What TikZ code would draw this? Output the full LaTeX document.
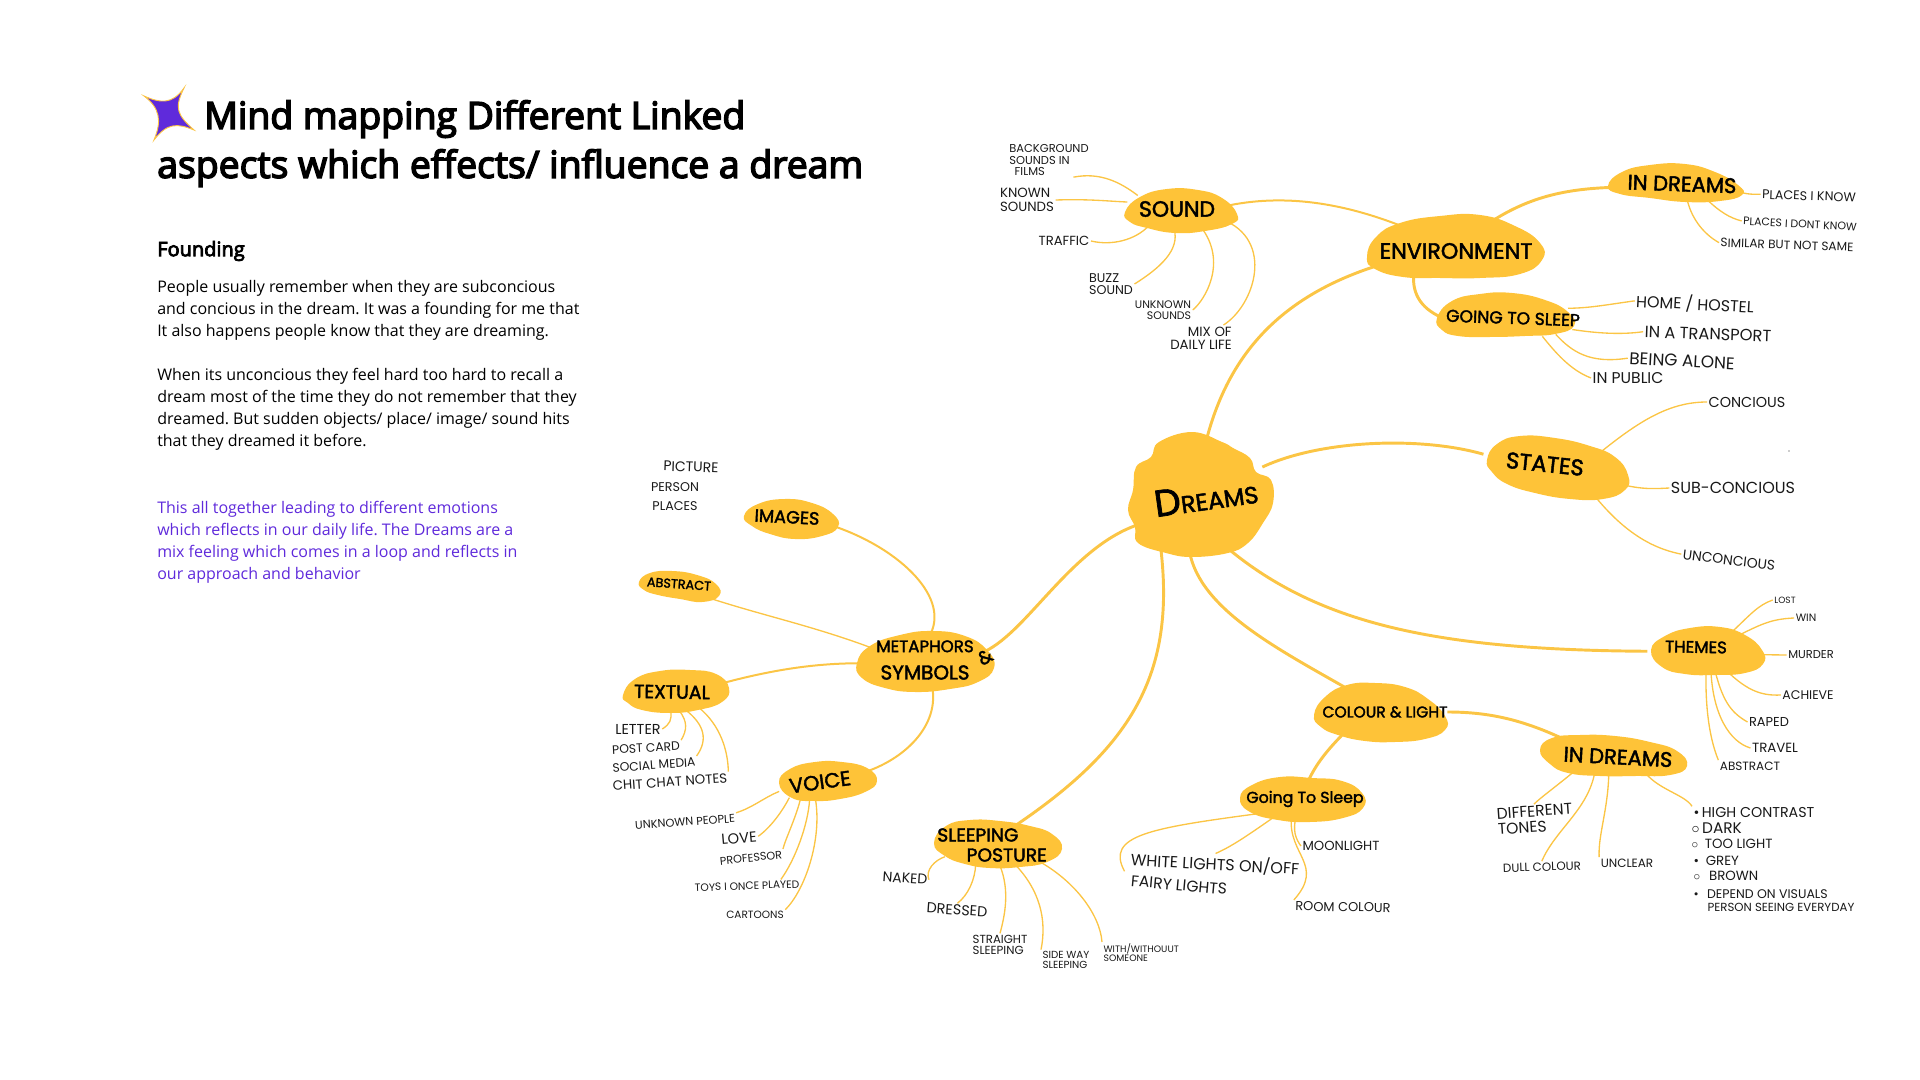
\documentclass[tikz,border=0pt]{standalone}
\usepackage{fontspec}
\setmainfont{Open Sans}
\newfontfamily\titlefont{Open Sans}[FakeBold=4]
\newfontfamily\handfont{Poppins}
\newfontfamily\headfont{Poppins}[FakeBold=2]
\usetikzlibrary{backgrounds,shapes.geometric}
\definecolor{dreamyellow}{HTML}{FEC338}
\definecolor{branchyellow}{HTML}{FBC545}
\definecolor{notepurple}{HTML}{5F2ADB}
\frenchspacing
\tikzset{
  blob fill/.style={fill=dreamyellow},
  blob node/.style 2 args={ellipse,inner xsep=-14pt,inner ysep=-3pt,
    minimum width=#1*.75pt,minimum height=#2*.75pt},
  head label/.style={font=\headfont\fontsize{#1}{#1}\selectfont,text=black},
  leaf label/.style={font=\handfont\fontsize{#1}{#1}\selectfont,text=black!90,
    inner sep=1pt,align=left},
  main branch/.style={draw=branchyellow,line width=2.2pt},
  mid branch/.style={draw=branchyellow,line width=1.5pt},
  leaf branch/.style={draw=branchyellow,line width=1pt},
  body text/.style={font=\fontsize{12}{16.5}\selectfont,align=left,inner sep=0pt},
}

\begin{document}
\begin{tikzpicture}[x=.75pt,y=-.75pt]
  \useasboundingbox (0,0) rectangle (1920,1080);
  \fill[notepurple,draw=branchyellow,line width=.7pt] (184,88)
    .. controls (174,108) and (177,115) .. (194,130)
    .. controls (177,123) and (167,123) .. (154,140)
    .. controls (162,121) and (160,108) .. (144,96)
    .. controls (160,103) and (172,105) .. (184,88) -- cycle;
  \node[font=\titlefont\fontsize{28}{36.75}\selectfont,align=left,anchor=north west,inner sep=0pt] (title)
    at (157,100) {\hspace*{35.25pt}Mind mapping Different Linked\\aspects which effects/ influence a dream};
  \node[font=\titlefont\fontsize{15}{18}\selectfont,anchor=west,inner sep=0pt] (founding) at (157,251) {Founding};
  \node[body text,anchor=north west] (para1) at (157,280) {People usually remember when they are subconcious\\
    and concious in the dream. It was a founding for me that\\It also happens people know that they are dreaming.};
  \node[body text,anchor=north west] (para2) at (157,368) {When its unconcious they feel hard too hard to recall a\\
    dream most of the time they do not remember that they\\dreamed. But sudden objects/ place/ image/ sound hits\\that they dreamed it before.};
  \node[body text,anchor=north west,text=notepurple] (para3) at (157,501) {This all together leading to different emotions\\
    which reflects in our daily life. The Dreams are a\\mix feeling which comes in a loop and reflects in\\our approach and behavior};

  \node[blob node={130}{110},head label=18,rotate=8] (dreams) at (1206,497) {{\fontsize{28}{28}\selectfont D}REAMS};
  \node[blob node={105}{40},head label=16.5] (sound) at (1177,209) {SOUND};
  \node[blob node={165}{54},head label=16.7] (env) at (1456,251) {ENVIRONMENT};
  \node[blob node={125}{32},head label=15.8,rotate=-2] (indreams) at (1682,184) {IN DREAMS};
  \node[blob node={125}{38},head label=12.9,rotate=-2] (gosleep) at (1513,318) {GOING TO SLEEP};
  \node[blob node={125}{50},head label=17,rotate=-6] (states) at (1545,464) {STATES};
  \node[blob node={100}{40},head label=12.5,rotate=-1] (themes) at (1696,647) {THEMES};
  \node[blob node={120}{48},head label=11.7] (colour) at (1385,712) {COLOUR \& LIGHT};
  \node[blob node={130}{34},head label=15.8,rotate=-3] (coldreams) at (1618,757) {IN DREAMS};
  \node[blob node={108}{38},head label=11.8] (colsleep) at (1305,799) {Going To Sleep};
  \node[blob node={125}{52},head label=12.5,align=center] (metaphors) at (925,660) {METAPHORS\\[8pt]{\fontsize{15}{15}\selectfont SYMBOLS}};
  \node[head label=14,rotate=30,inner sep=0pt] (metaand) at (985,657) {\&};
  \node[blob node={85}{34},head label=13.3,rotate=-3] (images) at (787,517) {IMAGES};
  \node[blob node={72}{26},head label=9.6,rotate=-4] (abstract) at (679,584) {ABSTRACT};
  \node[blob node={95}{36},head label=14.2,rotate=-1] (textual) at (672,692) {TEXTUAL};
  \node[blob node={85}{34},head label=15.5,rotate=8] (voice) at (820,782) {VOICE};
  \node[blob node={115}{40},head label=14,align=left] (posture) at (992,845) {SLEEPING\\[1pt]\hspace*{22pt}POSTURE};

  \node[leaf label=8.6] (bgsounds) at (1049,160) {BACKGROUND\\SOUNDS IN\\\hspace*{4pt}FILMS};
  \node[leaf label=10] (known) at (1027,200) {KNOWN\\SOUNDS};
  \node[leaf label=9.9] (traffic) at (1064,241) {TRAFFIC};
  \node[leaf label=9.5] (buzz) at (1111,284) {BUZZ\\SOUND};
  \node[leaf label=8.2,align=right] (unknownsnd) at (1163,310) {UNKNOWN\\SOUNDS};
  \node[leaf label=10,align=right] (mix) at (1201,338) {MIX OF\\DAILY LIFE};
  \node[leaf label=9.5,rotate=-2] (placesknow) at (1809,196) {PLACES I KNOW};
  \node[leaf label=8.2,rotate=-3] (placesdont) at (1800,224) {PLACES I DONT KNOW};
  \node[leaf label=9.1,rotate=-2] (similar) at (1787,245) {SIMILAR BUT NOT SAME};
  \node[leaf label=11.9,rotate=-3] (home) at (1695,304) {HOME / HOSTEL};
  \node[leaf label=12.2,rotate=-2] (transport) at (1708,334) {IN A TRANSPORT};
  \node[leaf label=12.7,rotate=-3] (alone) at (1682,361) {BEING ALONE};
  \node[leaf label=11.7] (public) at (1628,378) {IN PUBLIC};
  \node[leaf label=10.8] (concious) at (1747,402) {CONCIOUS};
  \node[leaf label=12] (subconcious) at (1733,488) {SUB-CONCIOUS};
  \node[leaf label=10.4,rotate=-7] (unconcious) at (1729,560) {UNCONCIOUS};
  \node[leaf label=6.8] (lost) at (1785,600) {LOST};
  \node[leaf label=8] (win) at (1806,618) {WIN};
  \node[leaf label=8.6] (murder) at (1811,655) {MURDER};
  \node[leaf label=9.4] (achieve) at (1808,695) {ACHIEVE};
  \node[leaf label=9.7] (raped) at (1769,722) {RAPED};
  \node[leaf label=10] (travel) at (1775,748) {TRAVEL};
  \node[leaf label=9] (themeabstract) at (1750,766) {ABSTRACT};
  \node[leaf label=11.7,rotate=4] (different) at (1535,819) {DIFFERENT\\TONES};
  \node[leaf label=8.9,rotate=2] (dull) at (1542,867) {DULL COLOUR};
  \node[leaf label=9] (unclear) at (1627,863) {UNCLEAR};
  \node[leaf label=10.7,anchor=west] (contrast) at (1692,813) {\textbullet\,HIGH CONTRAST};
  \node[leaf label=11.5,anchor=west] (dark) at (1690,828) {$\circ$\,DARK};
  \node[leaf label=10,anchor=west] (toolight) at (1690,844) {$\circ$\,\,\,TOO LIGHT};
  \node[leaf label=10,anchor=west] (grey) at (1692,861) {\textbullet\,\,\,GREY};
  \node[leaf label=10,anchor=west] (brown) at (1692,876) {$\circ$\,\,\,\,BROWN};
  \node[leaf label=9.4,anchor=west] (depend) at (1692,894) {\textbullet\,\,\,\,DEPEND ON VISUALS};
  \node[leaf label=8.8,anchor=west] (seeing) at (1706,907) {PERSON SEEING EVERYDAY};
  \node[leaf label=12,rotate=-3] (whitelights) at (1215,864) {WHITE LIGHTS ON/OFF};
  \node[leaf label=11.7,rotate=-5] (fairy) at (1179,885) {FAIRY LIGHTS};
  \node[leaf label=9.9] (moon) at (1341,846) {MOONLIGHT};
  \node[leaf label=9.7,rotate=-1] (room) at (1343,907) {ROOM COLOUR};
  \node[leaf label=10.5,rotate=-2] (picture) at (691,467) {PICTURE};
  \node[leaf label=9.5] (person) at (675,487) {PERSON};
  \node[leaf label=9.5] (places) at (675,506) {PLACES};
  \node[leaf label=10.8] (letter) at (638,729) {LETTER};
  \node[leaf label=9.2,rotate=3] (postcard) at (646,748) {POST CARD};
  \node[leaf label=9.2,rotate=4] (social) at (654,765) {SOCIAL MEDIA};
  \node[leaf label=10,rotate=4] (chit) at (670,782) {CHIT CHAT NOTES};
  \node[leaf label=8.5,rotate=4] (people) at (685,822) {UNKNOWN PEOPLE};
  \node[leaf label=11,rotate=5] (love) at (739,838) {LOVE};
  \node[leaf label=8.4,rotate=6] (professor) at (751,858) {PROFESSOR};
  \node[leaf label=8,rotate=2] (toys) at (747,886) {TOYS I ONCE PLAYED};
  \node[leaf label=7.9] (cartoons) at (755,915) {CARTOONS};
  \node[leaf label=10.5,rotate=-4] (naked) at (905,878) {NAKED};
  \node[leaf label=10.8,rotate=-4] (dressed) at (957,910) {DRESSED};
  \node[leaf label=8.8] (straight) at (1000,945) {STRAIGHT\\SLEEPING};
  \node[leaf label=7.7] (sideway) at (1066,960) {SIDE WAY\\SLEEPING};
  \node[leaf label=7,anchor=north west] (someone) at (1102,942) {WITH/WITHOUUT\\SOMEONE};

  \begin{scope}[on background layer]
    \draw[main branch] (dreams.82) .. controls (1228,355) and (1280,295) .. (env.190);
    \draw[mid branch] (sound.4) .. controls (1290,193) and (1350,205) .. (env.155);
    \draw[main branch] (env.41) .. controls (1530,195) and (1570,188) .. (indreams.185);
    \draw[main branch] (env.209) .. controls (1412,295) and (1422,310) .. (gosleep.183);
    \draw[main branch] (dreams.20) .. controls (1320,440) and (1420,436) .. (states.177);
    \draw[main branch] (dreams.-75) .. controls (1320,625) and (1440,650) .. (themes.186);
    \draw[main branch] (dreams.-115) .. controls (1200,610) and (1280,650) .. (colour.148);
    \draw[main branch] (colour.0) .. controls (1490,712) and (1525,720) .. (coldreams.166);
    \draw[main branch] (colour.206) .. controls (1325,752) and (1316,765) .. (colsleep.79);
    \draw[main branch] (dreams.213) .. controls (1178,670) and (1135,745) .. (posture.40);
    \draw[main branch] (dreams.195) .. controls (1075,540) and (1030,630) .. (metaphors.8);
    \draw[mid branch] (metaphors.78) .. controls (950,595) and (895,545) .. (images.-7);
    \draw[leaf branch] (metaphors.167) .. controls (810,625) and (760,615) .. (abstract.-23);
    \draw[mid branch] (metaphors.183) .. controls (815,663) and (770,670) .. (textual.10);
    \draw[mid branch] (metaphors.-75) .. controls (940,725) and (905,760) .. (voice.4);

    \draw[leaf branch] (sound.161) .. controls (1120,182) and (1100,172) .. (bgsounds.-35);
    \draw[leaf branch] (sound.172) .. controls (1105,201) and (1090,199) .. (known.east);
    \draw[leaf branch] (sound.211) .. controls (1135,240) and (1112,246) .. (traffic.east);
    \draw[leaf branch] (sound.262) .. controls (1180,250) and (1160,268) .. (buzz.east);
    \draw[leaf branch] (sound.323) .. controls (1228,262) and (1205,300) .. (unknownsnd.east);
    \draw[leaf branch] (sound.-13) .. controls (1275,240) and (1255,305) .. (mix.30);
    \draw[leaf branch] (indreams.-6) .. controls (1750,195) and (1755,194) .. (placesknow.west);
    \draw[leaf branch] (indreams.-30) .. controls (1720,212) and (1730,218) .. (placesdont.west);
    \draw[leaf branch] (indreams.-70) .. controls (1692,220) and (1705,235) .. (similar.west);
    \draw[leaf branch] (gosleep.12) .. controls (1590,308) and (1605,305) .. (home.west);
    \draw[leaf branch] (gosleep.-9) .. controls (1595,333) and (1620,335) .. (transport.west);
    \draw[leaf branch] (gosleep.-19) .. controls (1572,352) and (1590,364) .. (alone.west);
    \draw[leaf branch] (gosleep.-30) .. controls (1555,352) and (1570,370) .. (public.west);
    \draw[leaf branch] (states.16) .. controls (1640,420) and (1670,402) .. (concious.west);
    \draw[leaf branch] (states.-9) .. controls (1638,490) and (1650,489) .. (subconcious.west);
    \draw[leaf branch] (states.-22) .. controls (1620,530) and (1650,548) .. (unconcious.west);
    \draw[leaf branch] (themes.23) .. controls (1750,615) and (1758,605) .. (lost.west);
    \draw[leaf branch] (themes.16) .. controls (1760,625) and (1770,619) .. (win.west);
    \draw[leaf branch] (themes.-8) -- (murder.west);
    \draw[leaf branch] (themes.-35) .. controls (1745,690) and (1760,696) .. (achieve.west);
    \draw[leaf branch] (themes.-46) .. controls (1722,700) and (1730,712) .. (raped.west);
    \draw[leaf branch] (themes.-52) .. controls (1712,715) and (1730,742) .. (travel.west);
    \draw[leaf branch] (themes.-62) .. controls (1705,700) and (1708,735) .. (themeabstract.north west);
    \draw[leaf branch] (coldreams.199) .. controls (1558,785) and (1540,798) .. (different.north);
    \draw[leaf branch] (coldreams.216) .. controls (1588,810) and (1555,830) .. (dull.north);
    \draw[leaf branch] (coldreams.244) .. controls (1608,810) and (1598,835) .. (unclear.north west);
    \draw[leaf branch] (coldreams.-28) .. controls (1660,790) and (1685,795) .. (contrast.north west);
    \draw[leaf branch,shorten >=8pt] (colsleep.199) .. controls (1150,828) and (1105,835) .. (fairy.west);
    \draw[leaf branch] (colsleep.210) .. controls (1255,830) and (1235,845) .. (whitelights.north);
    \draw[leaf branch] (colsleep.244) .. controls (1293,830) and (1295,838) .. (moon.west);
    \draw[leaf branch] (colsleep.234) .. controls (1288,855) and (1325,865) .. (room.north west);
    \draw[leaf branch] (posture.194) .. controls (935,860) and (925,870) .. (naked.east);
    \draw[leaf branch] (posture.230) .. controls (975,880) and (968,895) .. (dressed.north);
    \draw[leaf branch] (posture.-69) .. controls (1010,890) and (1005,915) .. (straight.north);
    \draw[leaf branch] (posture.-40) .. controls (1040,890) and (1047,920) .. (sideway.north west);
    \draw[leaf branch] (posture.-18) .. controls (1075,880) and (1100,915) .. (someone.north west);
    \draw[leaf branch] (textual.267) .. controls (672,720) and (670,724) .. (letter.east);
    \draw[leaf branch] (textual.-68) .. controls (688,722) and (687,730) .. (postcard.north east);
    \draw[leaf branch] (textual.-52) .. controls (705,725) and (708,740) .. (social.north east);
    \draw[leaf branch] (textual.-29) .. controls (720,725) and (728,750) .. (chit.north east);
    \draw[leaf branch] (voice.185) .. controls (765,797) and (752,808) .. (people.north east);
    \draw[leaf branch] (voice.199) .. controls (782,812) and (770,828) .. (love.east);
    \draw[leaf branch] (voice.214) .. controls (795,820) and (785,840) .. (professor.north east);
    \draw[leaf branch] (voice.232) .. controls (808,825) and (795,860) .. (toys.9);
    \draw[leaf branch] (voice.248) .. controls (822,840) and (805,890) .. (cartoons.north east);

    \fill[blob fill] plot[smooth cycle,tension=.7] coordinates {(1192,432) (1222,442) (1233,448) (1250,458) (1256,472) (1271,480)
      (1273,503) (1263,523) (1248,543) (1228,553) (1192,557) (1166,553) (1138,543) (1135,527) (1128,510) (1133,490) (1136,467) (1151,457) (1159,442)};
    \fill[blob fill] plot[smooth cycle,tension=.8] coordinates {(1125,212) (1140,197) (1167,189) (1198,190) (1222,198) (1237,214) (1232,224) (1205,231) (1175,233) (1147,228) (1130,222)};
    \fill[blob fill] plot[smooth cycle,tension=.8] coordinates {(1367,257) (1376,237) (1400,223) (1440,216) (1480,215) (1515,226) (1540,243) (1542,260) (1520,274) (1480,278) (1440,278) (1403,277) (1375,269)};
    \fill[blob fill] plot[smooth cycle,tension=.8] coordinates {(1608,186) (1622,172) (1650,165) (1685,164) (1715,172) (1738,185) (1742,195) (1720,201) (1685,202) (1650,198) (1620,194)};
    \fill[blob fill] plot[smooth cycle,tension=.8] coordinates {(1437,318) (1452,301) (1480,294) (1512,293) (1545,300) (1568,312) (1574,326) (1555,334) (1525,336) (1490,337) (1458,336) (1442,330)};
    \fill[blob fill] plot[smooth cycle,tension=.8] coordinates {(1487,460) (1497,444) (1520,436) (1555,438) (1590,446) (1615,457) (1628,475) (1625,490) (1603,499) (1570,499) (1535,493) (1507,484) (1492,472)};
    \fill[blob fill] plot[smooth cycle,tension=.8] coordinates {(1651,650) (1665,636) (1690,628) (1720,627) (1745,635) (1762,650) (1763,664) (1745,673) (1715,675) (1685,674) (1662,667)};
    \fill[blob fill] plot[smooth cycle,tension=.8] coordinates {(1314,715) (1325,697) (1347,685) (1375,683) (1405,687) (1428,699) (1445,716) (1445,730) (1425,739) (1395,742) (1365,741) (1338,735) (1321,727)};
    \fill[blob fill] plot[smooth cycle,tension=.8] coordinates {(1540,750) (1552,738) (1580,735) (1615,736) (1650,742) (1677,751) (1687,766) (1670,775) (1635,776) (1600,776) (1568,773) (1550,764)};
    \fill[blob fill] plot[smooth cycle,tension=.8] coordinates {(1240,798) (1252,785) (1280,777) (1312,778) (1342,781) (1362,793) (1363,808) (1343,818) (1310,822) (1278,820) (1250,812)};
    \fill[blob fill] plot[smooth cycle,tension=.8] coordinates {(857,663) (870,646) (900,635) (933,631) (965,636) (987,650) (994,668) (978,682) (950,689) (915,692) (885,688) (862,678)};
    \fill[blob fill] plot[smooth cycle,tension=.8] coordinates {(744,516) (758,504) (785,499) (812,503) (833,514) (838,527) (822,536) (795,539) (770,534) (752,526)};
    \fill[blob fill] plot[smooth cycle,tension=.8] coordinates {(639,582) (650,573) (672,571) (697,575) (716,584) (719,596) (702,602) (680,599) (658,595) (644,590)};
    \fill[blob fill] plot[smooth cycle,tension=.8] coordinates {(623,695) (635,679) (660,671) (690,670) (716,674) (729,688) (722,702) (698,710) (670,713) (642,710) (628,703)};
    \fill[blob fill] plot[smooth cycle,tension=.8] coordinates {(779,783) (790,769) (815,762) (842,762) (867,768) (877,781) (865,792) (840,799) (815,801) (792,798)};
    \fill[blob fill] plot[smooth cycle,tension=.8] coordinates {(934,843) (946,826) (970,820) (1000,821) (1030,826) (1052,834) (1062,849) (1047,862) (1020,867) (990,868) (965,864) (945,856)};
    \fill[black!40] (1789,451) circle (.6pt);
  \end{scope}
\end{tikzpicture}
\end{document}
